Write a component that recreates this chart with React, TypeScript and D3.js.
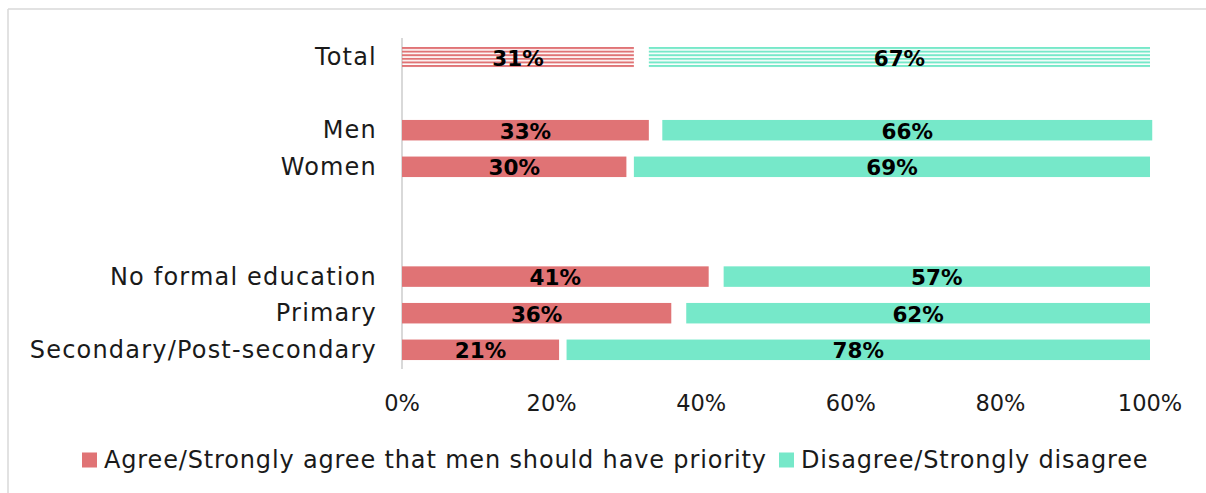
import React from "react";
import * as d3 from "d3";

const categories = ["Total", "", "Men", "Women", "", "", "No formal education", "Primary", "Secondary/Post-secondary"];
const agree = [31, null, 33, 30, null, null, 41, 36, 21];
const dontKnow = [2, null, 1.8, 1, null, null, 2, 2, 1];
const disagree = [67, null, 65.5, 69, null, null, 57, 62, 78];
const patterned = [true, false, false, false, false, false, false, false, false];
const xTicks = [0, 20, 40, 60, 80, 100];
const seriesNames = ["Agree/Strongly agree that men should have priority", "Disagree/Strongly disagree"];

const RED = "#E07375";
const TEAL = "#76E8C9";
const FONT = "'DejaVu Sans', sans-serif";

export default function App() {
  const W = 1206, H = 493;
  const x = d3.scaleLinear().domain([0, 100]).range([402, 1150]);
  const y = d3
    .scaleBand<number>()
    .domain(categories.map((_, i) => i))
    .range([30.65, 376.15])
    .paddingInner(0.44)
    .paddingOuter(0.44);
  const bw = y.bandwidth();

  return (
    <svg width={W} height={H} style={{ position: "absolute", left: 0, top: 0, background: "#fff" }}>
      <defs>
        <pattern id="pRed" patternUnits="userSpaceOnUse" width={8} height={3.6} y={y(0)! + 0.3}>
          <rect x={0} y={0} width={8} height={1.8} fill={RED} />
          <rect x={0} y={1.8} width={8} height={0.6} fill={RED} opacity={0.3} />
        </pattern>
        <pattern id="pTeal" patternUnits="userSpaceOnUse" width={8} height={3.6} y={y(0)! + 0.3}>
          <rect x={0} y={0} width={8} height={1.8} fill={TEAL} />
          <rect x={0} y={1.8} width={8} height={0.6} fill={TEAL} opacity={0.3} />
        </pattern>
      </defs>
      <rect x={0} y={0} width={W} height={H} fill="#fff" />
      {/* chart frame */}
      <line x1={8} y1={9} x2={W} y2={9} stroke="#d9d9d9" strokeWidth={1.5} />
      <line x1={8} y1={9} x2={8} y2={H} stroke="#d9d9d9" strokeWidth={1.5} />

      {/* category axis line */}
      <line x1={x(0)} y1={38} x2={x(0)} y2={369} stroke="#d9d9d9" strokeWidth={2} />

      {categories.map((c, i) => {
        const a = agree[i];
        const dk = dontKnow[i];
        const d = disagree[i];
        const yy = y(i)!;
        const cy = yy + bw / 2;
        return (
          <g key={i}>
            {c && (
              <text
                x={377}
                y={cy}
                textAnchor="end"
                dominantBaseline="central"
                fontFamily={FONT}
                fontSize={24}
                letterSpacing={1.2}
                fill="#1a1a1a"
              >
                {c}
              </text>
            )}
            {a != null && (
              <>
                <rect
                  x={x(0)}
                  y={yy}
                  width={x(a) - x(0)}
                  height={bw}
                  fill={patterned[i] ? "url(#pRed)" : RED}
                />
                <rect
                  x={x(a + dk!)}
                  y={yy}
                  width={x(a + dk! + d!) - x(a + dk!)}
                  height={bw}
                  fill={patterned[i] ? "url(#pTeal)" : TEAL}
                />
                <text
                  x={(x(0) + x(a)) / 2}
                  y={cy + 1}
                  textAnchor="middle"
                  dominantBaseline="central"
                  fontFamily={FONT}
                  fontWeight="bold"
                  fontSize={21.5}
                  fill="#000"
                >
                  {Math.round(a)}%
                </text>
                <text
                  x={(x(a + dk!) + x(a + dk! + d!)) / 2}
                  y={cy + 1}
                  textAnchor="middle"
                  dominantBaseline="central"
                  fontFamily={FONT}
                  fontWeight="bold"
                  fontSize={21.5}
                  fill="#000"
                >
                  {Math.round(d!)}%
                </text>
              </>
            )}
          </g>
        );
      })}

      {xTicks.map((t) => (
        <text
          key={t}
          x={x(t)}
          y={403}
          textAnchor="middle"
          dominantBaseline="central"
          fontFamily={FONT}
          fontSize={22.5}
          fill="#1a1a1a"
        >
          {t}%
        </text>
      ))}

      {/* legend */}
      <rect x={82} y={452.5} width={15} height={15} fill={RED} />
      <text x={104} y={460} dominantBaseline="central" fontFamily={FONT} fontSize={24} letterSpacing={0.85} fill="#1a1a1a">
        {seriesNames[0]}
      </text>
      <rect x={779} y={452.5} width={15} height={15} fill={TEAL} />
      <text x={801} y={460} dominantBaseline="central" fontFamily={FONT} fontSize={24} letterSpacing={0.85} fill="#1a1a1a">
        {seriesNames[1]}
      </text>
    </svg>
  );
}
